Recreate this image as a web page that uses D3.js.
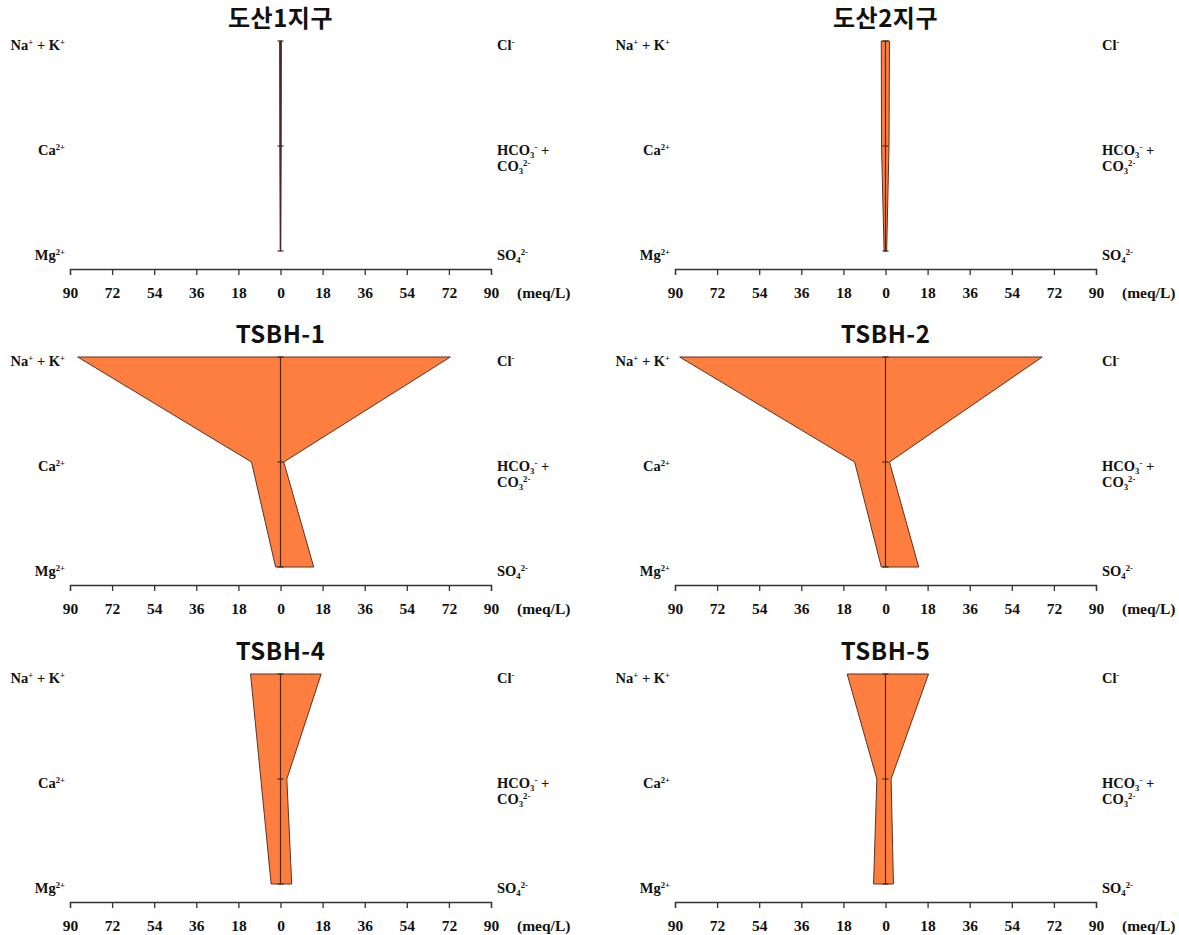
<!DOCTYPE html>
<html><head><meta charset="utf-8">
<script src="https://cdn.jsdelivr.net/npm/d3@7"></script>
<style>body{margin:0;background:#fff}</style>
</head><body>
<svg id="c" width="1179" height="935"></svg>
<script>
// ---- data ----
const titles = ["도산1지구", "도산2지구", "TSBH-1", "TSBH-2", "TSBH-4", "TSBH-5"];
const cationKeys = ["Na+K", "Ca", "Mg"];
const anionKeys = ["Cl", "HCO3+CO3", "SO4"];
// meq/L, one value per panel
const naK  = [0.4, 1.8, 86.7, 88.0, 12.8, 16.4];
const ca   = [0.3, 1.7, 12.4, 13.2, 8.4, 3.7];
const mg   = [0.1, 0.6, 2.1, 1.8, 4.0, 5.1];
const cl   = [0.4, 1.7, 72.6, 67.0, 17.4, 18.4];
const hco3 = [0.3, 1.5, 1.4, 1.7, 2.7, 2.4];
const so4  = [0.1, 0.5, 14.2, 14.2, 4.8, 3.4];
const tickValues = [-90, -72, -54, -36, -18, 0, 18, 36, 54, 72, 90];
const unitLabel = "(meq/L)";
const cationLabels = [
  [["Na","n"],["+","sup"],[" + K","n"],["+","sup"]],
  [["Ca","n"],["2+","sup"]],
  [["Mg","n"],["2+","sup"]]
];
const anionLabels = [
  [[["Cl","n"],["-","sup"]]],
  [[["HCO","n"],["3","sub"],["-","sup"],[" +","n"]], [["CO","n"],["3","sub"],["2-","sup"]]],
  [[["SO","n"],["4","sub"],["2-","sup"]]]
];

// ---- layout ----
const colLeft = [70, 675];
const panelW = 421;
const rowTop = [41, 357, 674];
const levelSpan = 210;
const fill = "#fd7e3e", strokeC = "#5b3325";
const serif = "'Liberation Serif','Times New Roman',serif";
const labelSize = 14.5;

const svg = d3.select("#c");

function rich(textSel, segs, size) {
  let cur = 0;
  segs.forEach(([t, type]) => {
    const shift = type === "sup" ? -5 : type === "sub" ? 3 : 0;
    textSel.append("tspan")
      .attr("dy", shift - cur)
      .attr("font-size", type === "n" ? size : size * 0.6)
      .text(t);
    cur = shift;
  });
}

titles.forEach((title, i) => {
  const col = i % 2, row = Math.floor(i / 2);
  const x0 = colLeft[col], top = rowTop[row];
  const x = d3.scaleLinear().domain([-90, 90]).range([x0, x0 + panelW]);
  const y = d3.scalePoint().domain([0, 1, 2]).range([top, top + levelSpan]);
  const g = svg.append("g");

  // title
  g.append("text")
    .attr("x", x(0)).attr("y", top - 21)
    .attr("text-anchor", "middle").attr("dominant-baseline", "middle")
    .attr("font-family", "'Noto Sans CJK KR','Noto Sans',sans-serif")
    .attr("font-weight", 700).attr("font-size", 24).attr("fill", "#111")
    .attr("letter-spacing", 0.5)
    .text(title);

  // polygon
  const cat = [naK[i], ca[i], mg[i]];
  const an = [cl[i], hco3[i], so4[i]];
  const pts = [];
  cat.forEach((v, k) => pts.push([x(-v), y(k)]));
  for (let k = 2; k >= 0; k--) pts.push([x(an[k]), y(k)]);
  g.append("path")
    .attr("d", d3.line()(pts) + "Z")
    .attr("fill", fill).attr("stroke", strokeC).attr("stroke-width", 1)
    .attr("stroke-linejoin", "miter");

  // center line + level ticks
  g.append("line")
    .attr("x1", x(0)).attr("x2", x(0)).attr("y1", y(0)).attr("y2", y(2))
    .attr("stroke", "#4a2a20").attr("stroke-width", 1.2);
  [0, 1, 2].forEach(k => {
    g.append("line")
      .attr("x1", x(0) - 3).attr("x2", x(0) + 3).attr("y1", y(k)).attr("y2", y(k))
      .attr("stroke", "#4a2a20").attr("stroke-width", 1.2);
  });

  // ion labels
  cationLabels.forEach((segs, k) => {
    const t = g.append("text")
      .attr("x", x0 - 5).attr("y", y(k) + 9)
      .attr("text-anchor", "end")
      .attr("font-family", serif).attr("font-weight", 700).attr("fill", "#111");
    rich(t, segs, labelSize);
  });
  anionLabels.forEach((lines, k) => {
    lines.forEach((segs, li) => {
      const t = g.append("text")
        .attr("x", x0 + 427).attr("y", y(k) + 9 + li * 16)
        .attr("font-family", serif).attr("font-weight", 700).attr("fill", "#111");
      rich(t, segs, labelSize);
    });
  });

  // axis
  const axisY = top + 228;
  const ax = g.append("g").attr("transform", `translate(0,${axisY})`)
    .call(d3.axisBottom(x).tickValues(tickValues).tickSize(6).tickSizeOuter(6)
      .tickPadding(11.5).tickFormat(d => Math.abs(d)));
  ax.selectAll("path, line").attr("stroke", "#333").attr("stroke-width", 1.3);
  ax.selectAll("text").attr("font-family", serif).attr("font-weight", 700)
    .attr("font-size", 15.5).attr("fill", "#111");
  g.append("text")
    .attr("x", x0 + 447).attr("y", axisY + 28.5)
    .attr("font-family", serif).attr("font-weight", 700).attr("font-size", 15.5)
    .attr("fill", "#111").text(unitLabel);
});
</script>
</body></html>
